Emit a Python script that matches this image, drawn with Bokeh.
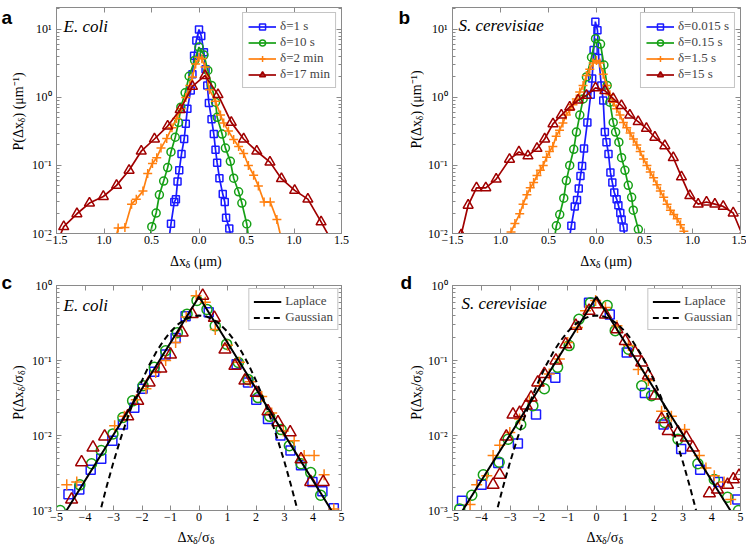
import math
from bokeh.plotting import figure
from bokeh.models import FixedTicker, LinearAxis, LogAxis, Label, Legend, LegendItem, Range1d
from bokeh.layouts import column, row
from bokeh.embed import file_html
from bokeh.resources import INLINE

# ---------------- data ----------------
# Panel a: E. coli, P(dx) vs dx (um)
a_labels = ["δ=1 s", "δ=10 s", "δ=2 min", "δ=17 min"]
a1_x = [-0.315, -0.295, -0.26, -0.243, -0.226, -0.208, -0.184, -0.156, -0.139, -0.122, -0.087, -0.069, -0.052, -0.028, 0.0,
        0.024, 0.052, 0.069, 0.087, 0.104, 0.132, 0.156, 0.174, 0.191, 0.215, 0.25, 0.271, 0.285, 0.319, 0.34]
a1_y = [0.0085, 0.0139, 0.029, 0.032, 0.058, 0.085, 0.148, 0.245, 0.41, 0.68, 1.27, 2.2, 4.1, 6.9, 10.0,
        8.0, 4.6, 2.6, 1.5, 0.83, 0.48, 0.29, 0.17, 0.11, 0.065, 0.038, 0.029, 0.017, 0.0118, 0.0085]
a2_x = [-0.52, -0.497, -0.451, -0.417, -0.372, -0.33, -0.295, -0.25, -0.215, -0.191, -0.146, -0.104, -0.046, 0.0,
        0.052, 0.093, 0.132, 0.174, 0.191, 0.243, 0.278, 0.33, 0.365, 0.417, 0.451, 0.503, 0.525]
a2_y = [0.008, 0.0126, 0.020, 0.037, 0.059, 0.093, 0.158, 0.26, 0.43, 0.72, 1.17, 2.05, 3.5, 5.5,
        4.2, 2.5, 1.5, 0.85, 0.51, 0.29, 0.18, 0.115, 0.065, 0.041, 0.028, 0.0138, 0.008]
a3_x = [-0.88, -0.851, -0.78, -0.71, -0.66, -0.59, -0.54, -0.49, -0.445, -0.40, -0.34, -0.285, -0.236, -0.19, -0.139,
        -0.097, -0.069, -0.035, 0.0, 0.03, 0.063, 0.11, 0.174, 0.226, 0.26, 0.31, 0.365, 0.417, 0.47, 0.52, 0.575,
        0.625, 0.685, 0.75, 0.82, 0.87]
a3_y = [0.008, 0.012, 0.0123, 0.027, 0.032, 0.042, 0.076, 0.107, 0.13, 0.18, 0.25, 0.36, 0.49, 0.68, 1.0,
        1.5, 2.0, 3.1, 3.9, 3.7, 2.8, 1.3, 0.88, 0.55, 0.42, 0.32, 0.24, 0.19, 0.15, 0.1, 0.072,
        0.05, 0.029, 0.029, 0.016, 0.008]
a4_x = [-1.49, -1.424, -1.285, -1.153, -1.007, -0.868, -0.736, -0.608, -0.469, -0.33, -0.198, -0.069, 0.0625,
        0.20, 0.34, 0.47, 0.608, 0.747, 0.868, 1.007, 1.146, 1.285, 1.41]
a4_y = [0.0075, 0.0126, 0.0195, 0.028, 0.035, 0.051, 0.085, 0.162, 0.245, 0.38, 0.66, 1.45, 2.1,
        1.1, 0.43, 0.245, 0.162, 0.112, 0.064, 0.043, 0.032, 0.0148, 0.0072]

# Panel b: S. cerevisiae
b_labels = ["δ=0.015 s", "δ=0.15 s", "δ=1.5 s", "δ=15 s"]
b1_x = [-0.285, -0.262, -0.227, -0.203, -0.185, -0.167, -0.15, -0.13, -0.095, -0.06, -0.045, -0.03, -0.012, 0.01,
        0.024, 0.05, 0.07, 0.087, 0.104, 0.125, 0.145, 0.165, 0.185, 0.21, 0.228, 0.248, 0.262, 0.282, 0.3]
b1_y = [0.008, 0.013, 0.025, 0.031, 0.046, 0.07, 0.098, 0.177, 0.43, 1.1, 1.9, 5.0, 13.0, 9.7,
        3.8, 1.5, 0.9, 0.31, 0.22, 0.148, 0.079, 0.056, 0.040, 0.032, 0.026, 0.020, 0.016, 0.0123, 0.008]
b2_x = [-0.44, -0.418, -0.383, -0.341, -0.314, -0.279, -0.237, -0.209, -0.174, -0.139, -0.105, -0.052, -0.01,
        0.042, 0.077, 0.111, 0.139, 0.174, 0.199, 0.233, 0.261, 0.296, 0.331, 0.366, 0.383, 0.436, 0.46]
b2_y = [0.008, 0.013, 0.019, 0.033, 0.060, 0.10, 0.173, 0.31, 0.55, 0.95, 2.0, 3.9, 7.3,
        6.1, 3.0, 1.5, 0.85, 0.43, 0.31, 0.22, 0.13, 0.085, 0.051, 0.034, 0.022, 0.0115, 0.007]
b3_x = [-0.92, -0.89, -0.85, -0.80, -0.765, -0.725, -0.69, -0.655, -0.62, -0.585, -0.555, -0.52, -0.49, -0.455,
        -0.42, -0.385, -0.35, -0.315, -0.28, -0.245, -0.21, -0.175, -0.14, -0.105, -0.07, -0.035, 0.0,
        0.035, 0.07, 0.105, 0.14, 0.175, 0.21, 0.245, 0.28, 0.315, 0.35, 0.385, 0.42, 0.455, 0.49,
        0.525, 0.56, 0.595, 0.63, 0.665, 0.70, 0.735, 0.77, 0.805, 0.84, 0.875, 0.91, 0.945]
b3_y = [0.007, 0.0105, 0.014, 0.0195, 0.027, 0.037, 0.047, 0.056, 0.071, 0.085, 0.1, 0.132, 0.16, 0.19,
        0.27, 0.33, 0.42, 0.55, 0.65, 0.78, 0.95, 1.2, 1.5, 2.1, 2.6, 3.2, 3.5,
        3.2, 2.2, 1.5, 1.1, 0.85, 0.68, 0.55, 0.43, 0.36, 0.3, 0.245, 0.2, 0.16, 0.125,
        0.1, 0.08, 0.066, 0.052, 0.042, 0.034, 0.027, 0.022, 0.019, 0.0165, 0.0135, 0.0108, 0.0075]
b4_x = [-1.41, -1.337, -1.25, -1.153, -1.045, -0.906, -0.808, -0.714, -0.62, -0.54, -0.453, -0.366, -0.279,
        -0.192, -0.105, -0.01, 0.087, 0.174, 0.26, 0.347, 0.434, 0.52, 0.608, 0.712, 0.80, 0.885, 0.972,
        1.059, 1.146, 1.233, 1.32, 1.424, 1.52]
b4_y = [0.0095, 0.026, 0.047, 0.047, 0.063, 0.123, 0.158, 0.138, 0.178, 0.245, 0.41, 0.55, 0.72,
        0.91, 1.07, 1.38, 1.26, 0.96, 0.76, 0.55, 0.44, 0.35, 0.26, 0.195, 0.13, 0.068, 0.036,
        0.027, 0.029, 0.027, 0.025, 0.020, 0.0095]

# Panel c: E. coli rescaled
c1_x = [-4.58, -4.2, -3.8, -3.43, -3.04, -2.67, -2.27, -1.98, -1.57, -1.17, -0.82, -0.47, 0.34, 1.32, 1.72, 2.01,
        2.42, 2.86, 3.21, 3.58, 3.98, 4.33, 4.73]
c1_y = [0.00165, 0.0019, 0.0035, 0.0049, 0.0085, 0.014, 0.0235, 0.042, 0.071, 0.12, 0.2, 0.39, 0.44, 0.089, 0.051,
        0.030, 0.0166, 0.01, 0.0063, 0.0040, 0.0024, 0.0018, 0.00107]
c2_x = [-4.87, -4.18, -3.77, -3.43, -3.02, -2.67, -2.33, -1.96, -1.57, -1.17, -0.76, -0.42, -0.07, 0.28, 0.57,
        0.97, 1.38, 1.72, 2.07, 2.48, 2.88, 3.17, 3.58, 3.92, 4.27]
c2_y = [0.001, 0.0022, 0.0042, 0.0063, 0.0105, 0.0174, 0.029, 0.046, 0.081, 0.135, 0.235, 0.415, 0.63, 0.48, 0.29,
        0.165, 0.094, 0.056, 0.032, 0.018, 0.012, 0.0073, 0.0042, 0.0032, 0.0016]
c3_x = [-4.64, -4.29, -2.96, -2.62, -2.2, -1.86, -1.52, -1.17, -0.82, -0.45, -0.1, 0.22, 0.57, 1.0, 1.42, 1.8,
        2.2, 2.55, 2.96, 3.34, 3.69, 4.04, 4.39, 4.73]
c3_y = [0.0022, 0.0024, 0.0135, 0.018, 0.03, 0.042, 0.069, 0.1, 0.174, 0.38, 0.73, 0.6, 0.26, 0.16, 0.095, 0.052,
        0.033, 0.02, 0.0115, 0.0085, 0.0054, 0.0054, 0.003, 0.00105]
c4_x = [-4.47, -4.12, -3.72, -3.31, -2.5, -2.15, -1.75, -1.34, -1.0, -0.59, -0.24, 0.13, 0.54, 0.91, 1.26, 1.61,
        2.01, 2.42, 2.77, 3.2, 3.58, 3.92, 4.36]
c4_y = [0.0014, 0.0044, 0.0069, 0.0097, 0.018, 0.029, 0.051, 0.078, 0.12, 0.236, 0.415, 0.73, 0.37, 0.14, 0.085,
        0.054, 0.037, 0.021, 0.015, 0.011, 0.0048, 0.0024, 0.0024]

# Panel d: S. cerevisiae rescaled
d1_x = [-4.67, -3.99, -3.41, -2.73, -2.10, -1.43, -0.26, 0.46, 1.05, 1.68, 2.33, 2.94, 3.6, 4.23, 4.89]
d1_y = [0.00135, 0.0022, 0.0043, 0.0078, 0.019, 0.059, 0.59, 0.41, 0.128, 0.037, 0.014, 0.0066, 0.0035, 0.0024, 0.0014]
d2_x = [-4.75, -4.33, -3.93, -3.38, -3.07, -2.63, -2.21, -1.81, -1.35, -0.95, -0.61, -0.21, 0.37, 0.65, 1.11,
        1.57, 1.91, 2.37, 2.83, 3.52, 4.09, 4.55, 4.93]
d2_y = [0.00105, 0.0016, 0.003, 0.0044, 0.0089, 0.014, 0.025, 0.042, 0.081, 0.158, 0.355, 0.59, 0.54, 0.25, 0.141,
        0.046, 0.034, 0.0149, 0.0089, 0.0042, 0.0026, 0.0015, 0.001]
d3_x = [-4.39, -4.16, -3.81, -3.59, -3.36, -3.01, -2.67, -2.33, -1.98, -1.64, -1.29, -1.0, -0.66, -0.38, -0.03,
        0.31, 0.71, 1.11, 1.45, 1.80, 2.26, 2.60, 3.06, 3.57, 3.80, 4.09, 4.43, 4.66]
d3_y = [0.0012, 0.0022, 0.0029, 0.0054, 0.0074, 0.011, 0.0166, 0.029, 0.046, 0.066, 0.105, 0.174, 0.275, 0.46, 0.63,
        0.51, 0.29, 0.158, 0.076, 0.054, 0.021, 0.018, 0.012, 0.0054, 0.0037, 0.0029, 0.0024, 0.0014]
d4_x = [-3.59, -3.36, -3.13, -2.90, -2.67, -2.44, -2.27, -2.04, -1.81, -1.41, -1.07, -0.72, -0.26, -0.03, 0.31,
        0.71, 1.0, 1.34, 1.57, 1.80, 2.03, 2.26, 2.49, 2.83, 3.12, 3.34, 3.92, 4.2, 4.55, 4.75, 4.95]
d4_y = [0.0022, 0.003, 0.0097, 0.019, 0.02, 0.025, 0.032, 0.051, 0.066, 0.1, 0.165, 0.29, 0.46, 0.56, 0.41,
        0.26, 0.182, 0.128, 0.094, 0.063, 0.034, 0.0166, 0.0115, 0.011, 0.0094, 0.0069, 0.0017, 0.0019, 0.0022,
        0.0026, 0.0029]

# Reference curves (unit variance)
lap_x = [-4.65, 0.0, 4.65]
lap_y = [0.001, 0.707, 0.001]
gau_x = [-3.6, -3.5, -3.25, -3.0, -2.75, -2.5, -2.25, -2.0, -1.75, -1.5, -1.25, -1.0, -0.75, -0.5, -0.25, 0.0,
         0.25, 0.5, 0.75, 1.0, 1.25, 1.5, 1.75, 2.0, 2.25, 2.5, 2.75, 3.0, 3.25, 3.5, 3.6]
gau_y = [0.00061, 0.00087, 0.00203, 0.00443, 0.00909, 0.0175, 0.0317, 0.054, 0.0863, 0.1295, 0.1826, 0.242, 0.3011,
         0.3521, 0.3867, 0.3989, 0.3867, 0.3521, 0.3011, 0.242, 0.1826, 0.1295, 0.0863, 0.054, 0.0317, 0.0175,
         0.00909, 0.00443, 0.00203, 0.00087, 0.00061]

# Ticks
ab_xticks = [-1.5, -1.0, -0.5, 0.0, 0.5, 1.0, 1.5]
ab_xlabels = ["−1.5", "1.0", "0.5", "0.0", "0.5", "1.0", "1.5"]
ab_yticks = [0.01, 0.1, 1.0, 10.0]
ab_ylabels = ["10⁻²", "10⁻¹", "10⁰", "10¹"]
cd_xticks = [-5, -4, -3, -2, -1, 0, 1, 2, 3, 4, 5]
cd_xlabels = ["−5", "−4", "−3", "−2", "−1", "0", "1", "2", "3", "4", "5"]
cd_yticks = [0.001, 0.01, 0.1, 1.0]
cd_ylabels = ["10⁻³", "10⁻²", "10⁻¹", "10⁰"]

# ---------------- style ----------------
SERIF = "Liberation Serif"
SANS = "Liberation Sans"
COLORS = ["#1a1aff", "#16a016", "#ff8010", "#a00000"]
MARKERS = ["square", "circle", "cross", "triangle"]
SIZES_AB = [7, 8, 9, 10]
SIZES_CD = [9, 10, 11, 12]
FRAME = "#8a8a8a"
LBL = 14

EM = {'Δ': 0.612, 'x': 0.5, 'δ': 0.5, ' ': 0.25, '(': 0.333, ')': 0.333, 'μ': 0.576, 'm': 0.778,
      '⁻': 0.4, '¹': 0.35, 'P': 0.556, '/': 0.278, 'σ': 0.55}


def tw(t, s):
    return sum(EM.get(c, 0.5) for c in t) * s


def minor_list(lo_exp, hi_exp):
    return [m * 10.0 ** e for e in range(lo_exp, hi_exp) for m in range(2, 10)]


def make_fig(width, height, xr, yr, bl, br, bt, bb):
    p = figure(width=width, height=height, x_range=Range1d(*xr), y_range=Range1d(*yr), y_axis_type="log",
               output_backend="svg", toolbar_location=None,
               min_border_left=bl, min_border_right=br, min_border_top=bt, min_border_bottom=bb)
    p.grid.visible = False
    p.outline_line_color = FRAME
    p.background_fill_color = "white"
    p.border_fill_color = "white"
    return p


def make_strip(width, height):
    s = figure(width=width, height=height, x_range=Range1d(0, width), y_range=Range1d(0, height),
               x_axis_type=None, y_axis_type=None, output_backend="svg", toolbar_location=None,
               min_border=0, min_border_left=0, min_border_right=0, min_border_top=0, min_border_bottom=0)
    s.grid.visible = False
    s.outline_line_color = None
    s.background_fill_color = "white"
    s.border_fill_color = "white"
    return s


def style_axes(p, xt, xl, yt, ymin, yl):
    xtick = FixedTicker(ticks=xt)
    ytick = FixedTicker(ticks=yt, minor_ticks=ymin)
    bottom = p.below[0]
    left = p.left[0]
    bottom.ticker = xtick
    left.ticker = ytick
    bottom.major_label_overrides = dict(zip(xt, xl))
    left.major_label_overrides = dict(zip(yt, yl))
    top = LinearAxis(ticker=xtick, major_label_text_font_size="1px", major_label_text_color=None,
                     major_label_standoff=0)
    right = LogAxis(ticker=ytick, major_label_text_font_size="1px", major_label_text_color=None,
                    major_label_standoff=0)
    p.add_layout(top, "above")
    p.add_layout(right, "right")
    for ax in (bottom, left, top, right):
        ax.axis_line_color = FRAME
        ax.major_tick_line_color = FRAME
        ax.minor_tick_line_color = FRAME
        ax.major_tick_in = 5
        ax.major_tick_out = 0
        ax.minor_tick_in = 3
        ax.minor_tick_out = 0
        ax.major_label_text_font = SERIF
    for ax in (bottom, left):
        ax.major_label_text_color = "black"
        ax.major_label_text_font_size = "12px"
    bottom.major_label_standoff = 2
    left.major_label_standoff = 5
    bottom.minor_tick_line_color = None
    top.minor_tick_line_color = None


def lab(p, x, y, text, xo, yo, size, font=SERIF, style="normal", angle=0.0, align="left"):
    p.add_layout(Label(x=x, y=y, x_offset=xo, y_offset=yo, text=text, text_font=font, text_font_size=f"{size}px",
                       text_font_style=style, angle=angle, text_align=align, text_baseline="alphabetic",
                       text_color="black"))


def compose(p, x, y, pieces, vertical=False):
    total = sum(tw(t, s) for t, s, d in pieces)
    pos = -total / 2
    for t, s, d in pieces:
        lead = len(t) - len(t.lstrip(" "))
        shown = t.lstrip(" ")
        pos += tw(" " * lead, s)
        if vertical:
            lab(p, x, y, shown, d, pos, s, angle=math.pi / 2)
        else:
            lab(p, x, y, shown, pos, -d, s)
        pos += tw(shown, s)


def legend_style(lg):
    lg.location = "top_right"
    lg.margin = 5
    lg.padding = 5
    lg.spacing = 0
    lg.glyph_width = 28
    lg.glyph_height = 15
    lg.label_height = 15
    lg.label_standoff = 4
    lg.label_text_font = SERIF
    lg.label_text_font_size = "13px"
    lg.border_line_color = FRAME
    lg.border_line_width = 1
    lg.background_fill_color = "white"
    lg.background_fill_alpha = 1.0


def dist_panel(p, series, labels):
    items = []
    for (xs, ys), c, m, sz, name in zip(series, COLORS, MARKERS, SIZES_AB, labels):
        ln = p.line(xs, ys, line_color=c, line_width=1.7)
        sc = p.scatter(xs, ys, marker=m, size=sz, fill_color=None, line_color=c, line_width=1.5)
        items.append(LegendItem(label=name, renderers=[ln, sc]))
    lg = Legend(items=items)
    legend_style(lg)
    p.add_layout(lg)


def scaled_panel(p, series):
    for (xs, ys), c, m, sz in zip(series, COLORS, MARKERS, SIZES_CD):
        p.scatter(xs, ys, marker=m, size=sz, fill_color=None, line_color=c, line_width=1.5)
    l1 = p.line(lap_x, lap_y, line_color="black", line_width=2)
    l2 = p.line(gau_x, gau_y, line_color="black", line_width=2, line_dash="6 4")
    lg = Legend(items=[LegendItem(label="Laplace", renderers=[l1]), LegendItem(label="Gaussian", renderers=[l2])])
    legend_style(lg)
    lg.margin = 3
    lg.padding = 4
    lg.glyph_height = 13
    lg.label_height = 13
    lg.glyph_width = 28
    p.add_layout(lg)


# ---------------- panels ----------------
# page layout: frames a 53..341 x 7..233, b 452..740 x 7..233,
# c 53..341 x 285..510, d 449..740 x 285..510
pa = make_fig(345, 250, (-1.5, 1.5), (0.01, 21.0), 25, 32, 7, 17)
pb = make_fig(322, 250, (-1.5, 1.5), (0.01, 21.0), 28, 6, 7, 17)
pc = make_fig(345, 257, (-5, 5), (0.001, 1.0), 25, 32, 15, 17)
pd = make_fig(322, 257, (-5, 5), (0.001, 1.0), 25, 6, 15, 17)

for p in (pa, pb):
    style_axes(p, ab_xticks, ab_xlabels, ab_yticks, minor_list(-2, 2), ab_ylabels)
for p in (pc, pd):
    style_axes(p, cd_xticks, cd_xlabels, cd_yticks, minor_list(-3, 0), cd_ylabels)

dist_panel(pa, [(a1_x, a1_y), (a2_x, a2_y), (a3_x, a3_y), (a4_x, a4_y)], a_labels)
dist_panel(pb, [(b1_x, b1_y), (b2_x, b2_y), (b3_x, b3_y), (b4_x, b4_y)], b_labels)
scaled_panel(pc, [(c1_x, c1_y), (c2_x, c2_y), (c3_x, c3_y), (c4_x, c4_y)])
scaled_panel(pd, [(d1_x, d1_y), (d2_x, d2_y), (d3_x, d3_y), (d4_x, d4_y)])

# species names inside the frames
lab(pa, -1.5, 21.0, "E. coli", 7, -19, 17, style="italic")
lab(pb, -1.5, 21.0, "S. cerevisiae", 6, -18, 17, style="italic")
lab(pc, -5, 1.0, "E. coli", 7, -20, 17, style="italic")
lab(pd, -5, 1.0, "S. cerevisiae", 9, -18, 17, style="italic")

# label strips (axis titles with subscripts, panel letters)
xl_ab = [("Δx", LBL, 0), ("δ", 10, 3), (" (μm)", LBL, 0)]
yl_ab = [("P(Δx", LBL, 0), ("δ", 10, 3), (") (μm⁻¹)", LBL, 0)]
xl_cd = [("Δx", LBL, 0), ("δ", 10, 3), ("/σ", LBL, 0), ("δ", 10, 3)]
yl_cd = [("P(Δx", LBL, 0), ("δ", 10, 3), ("/σ", LBL, 0), ("δ", 10, 3), (")", LBL, 0)]

s_yla = make_strip(28, 270)
s_ylb = make_strip(51, 270)
s_xla = make_strip(345, 20)
s_xlb = make_strip(322, 20)
s_ylc = make_strip(28, 277)
s_yld = make_strip(51, 277)
s_xlc = make_strip(345, 20)
s_xld = make_strip(322, 20)

compose(s_yla, 18, 160, yl_ab, vertical=True)
compose(s_ylb, 43, 162, yl_ab, vertical=True)
compose(s_ylc, 18, 155, yl_cd, vertical=True)
compose(s_yld, 43, 155, yl_cd, vertical=True)
compose(s_xla, 169, 9, xl_ab)
compose(s_xlb, 172, 9, xl_ab)
compose(s_xlc, 169, 10, xl_cd)
compose(s_xld, 170.5, 10, xl_cd)

lab(s_yla, 1, 253, "a", 0, 0, 19, font=SANS, style="bold")
lab(s_ylb, 25, 253, "b", 0, 0, 19, font=SANS, style="bold")
lab(s_ylc, 1, 265, "c", 0, 0, 19, font=SANS, style="bold")
lab(s_yld, 27, 265, "d", 0, 0, 19, font=SANS, style="bold")

top_row = row(s_yla, column(pa, s_xla), s_ylb, column(pb, s_xlb))
bottom_row = row(s_ylc, column(pc, s_xlc), s_yld, column(pd, s_xld))
layout = column(top_row, bottom_row)
open("out.html", "w").write(file_html(layout, INLINE))
